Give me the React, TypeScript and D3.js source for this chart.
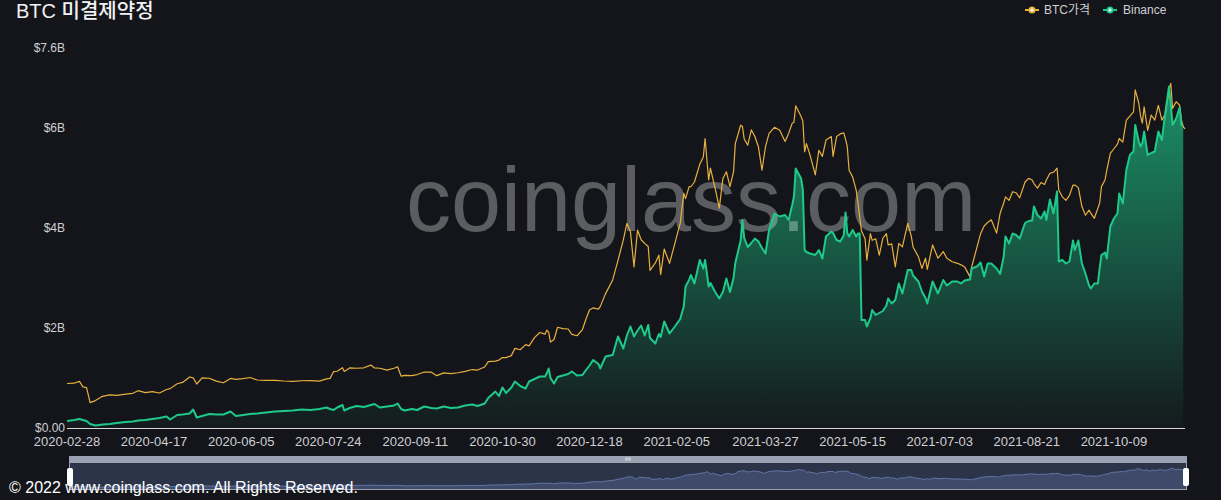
import React from 'react';
import * as d3 from 'd3';

const W = 1221;
const H = 500;

const dates: string[] = [
  '2020-02-28','2020-03-03','2020-03-06','2020-03-08','2020-03-10','2020-03-12','2020-03-15','2020-03-19','2020-03-23','2020-03-27',
  '2020-04-01','2020-04-05','2020-04-08','2020-04-12','2020-04-16','2020-04-20','2020-04-24','2020-04-26','2020-04-30',
  '2020-05-03','2020-05-07','2020-05-09','2020-05-11','2020-05-14','2020-05-18','2020-05-22','2020-05-26','2020-05-30',
  '2020-06-02','2020-06-06','2020-06-10','2020-06-14','2020-06-19','2020-06-24','2020-06-29',
  '2020-07-04','2020-07-09','2020-07-14','2020-07-19','2020-07-23','2020-07-25','2020-07-27','2020-07-29',
  '2020-08-01','2020-08-02','2020-08-05','2020-08-09','2020-08-13','2020-08-17','2020-08-19','2020-08-22','2020-08-26','2020-08-30',
  '2020-09-01','2020-09-03','2020-09-05','2020-09-09','2020-09-12','2020-09-16','2020-09-20','2020-09-23','2020-09-27',
  '2020-10-01','2020-10-05','2020-10-09','2020-10-13','2020-10-16','2020-10-20','2020-10-22','2020-10-26','2020-10-28','2020-10-30',
  '2020-11-01','2020-11-04','2020-11-06','2020-11-09','2020-11-12','2020-11-14','2020-11-17','2020-11-20','2020-11-23','2020-11-24','2020-11-25','2020-11-26','2020-11-28','2020-11-30',
  '2020-12-03','2020-12-06','2020-12-08','2020-12-11','2020-12-14','2020-12-16','2020-12-18','2020-12-20','2020-12-23','2020-12-24','2020-12-27','2020-12-31',
  '2021-01-03','2021-01-06','2021-01-08','2021-01-10','2021-01-12','2021-01-14','2021-01-16','2021-01-18','2021-01-20','2021-01-21','2021-01-24','2021-01-26','2021-01-27','2021-01-29',
  '2021-02-01','2021-02-04','2021-02-07','2021-02-09','2021-02-10','2021-02-12','2021-02-13','2021-02-15','2021-02-18','2021-02-20','2021-02-21','2021-02-23','2021-02-24','2021-02-27',
  '2021-03-01','2021-03-03','2021-03-05','2021-03-07','2021-03-09','2021-03-10','2021-03-13','2021-03-14','2021-03-15','2021-03-17','2021-03-19','2021-03-21','2021-03-23','2021-03-25','2021-03-27','2021-03-29',
  '2021-04-01','2021-04-04','2021-04-07','2021-04-09','2021-04-11','2021-04-12','2021-04-13','2021-04-16','2021-04-17','2021-04-18','2021-04-19','2021-04-21','2021-04-24','2021-04-26','2021-04-28','2021-04-30',
  '2021-05-03','2021-05-04','2021-05-06','2021-05-08','2021-05-10','2021-05-11','2021-05-12','2021-05-13','2021-05-15','2021-05-17','2021-05-18','2021-05-19','2021-05-20','2021-05-22','2021-05-23','2021-05-25','2021-05-26','2021-05-28','2021-05-30',
  '2021-06-01','2021-06-03','2021-06-04','2021-06-06','2021-06-08','2021-06-10','2021-06-12','2021-06-15','2021-06-17','2021-06-18','2021-06-21','2021-06-23','2021-06-25','2021-06-26','2021-06-29',
  '2021-07-02','2021-07-05','2021-07-07','2021-07-10','2021-07-13','2021-07-15','2021-07-17','2021-07-20','2021-07-21','2021-07-24','2021-07-26','2021-07-28','2021-07-30',
  '2021-08-01','2021-08-04','2021-08-06','2021-08-08','2021-08-09','2021-08-11','2021-08-13','2021-08-15','2021-08-17','2021-08-20','2021-08-22','2021-08-24','2021-08-25','2021-08-27','2021-08-29','2021-08-31',
  '2021-09-01','2021-09-03','2021-09-05','2021-09-07','2021-09-08','2021-09-10','2021-09-12','2021-09-14','2021-09-16','2021-09-17','2021-09-19','2021-09-21','2021-09-23','2021-09-25','2021-09-26','2021-09-28','2021-09-30',
  '2021-10-01','2021-10-02','2021-10-04','2021-10-05','2021-10-07','2021-10-09','2021-10-11','2021-10-12','2021-10-14','2021-10-16','2021-10-18','2021-10-20','2021-10-21','2021-10-23','2021-10-24','2021-10-25','2021-10-26','2021-10-28','2021-10-30',
  '2021-11-01','2021-11-03','2021-11-05','2021-11-07','2021-11-09','2021-11-10','2021-11-11','2021-11-13','2021-11-15','2021-11-16','2021-11-17','2021-11-18',
];

// BTC price, USD
const btcPrice: number[] = [
  8700, 8760, 9120, 8030, 7900, 4970, 5360, 6190, 6470, 6370,
  6640, 6780, 7300, 6910, 7120, 6840, 7530, 7700, 8660,
  8910, 9980, 9800, 8600, 9790, 9730, 9170, 8840, 9700,
  9520, 9660, 9880, 9390, 9310, 9310, 9190,
  9130, 9240, 9250, 9170, 9600, 9700, 11030, 11100,
  11800, 11070, 11740, 11680, 11770, 12300, 11750, 11680, 11330, 11680,
  11970, 10130, 10280, 10240, 10450, 10950, 10920, 10240, 10780,
  10620, 10800, 11060, 11430, 11330, 11920, 12990, 13080, 13280, 13780,
  13750, 14150, 15570, 15300, 16300, 16070, 17680, 18680, 18360, 19160, 18720, 16800, 17300, 19700,
  19420, 19360, 18320, 18040, 19250, 21300, 23130, 23480, 23240, 23730, 26270, 28950,
  32780, 36800, 40000, 38360, 31500, 38700, 36800, 36100, 35500, 30830, 32280, 33800, 30000, 35000,
  32200, 36100, 40000, 45900, 44840, 47200, 47170, 48100, 51550, 53000, 56600, 48500, 50800, 46300,
  43000, 48800, 50100, 47200, 50100, 55600, 59200, 59000, 56500, 55300, 58300, 57000, 55000, 50400, 55000, 57600,
  58800, 58200, 56000, 57600, 59600, 59800, 63000, 60900, 60000, 54000, 55600, 53400, 49500, 54300, 53100, 56300,
  57000, 53100, 57000, 57500, 57700, 56500, 55000, 50400, 49100, 46500, 44000, 41300, 38500, 37000, 32800, 38000, 36700, 37000, 33800,
  37100, 38000, 35800, 36000, 31500, 36100, 35400, 40000, 37500, 35400, 33500, 31200, 33200, 31000, 35800,
  33200, 34500, 33200, 32500, 32200, 31900, 31500, 29600, 31500, 35400, 38000, 39500, 40200,
  40700, 38100, 42000, 44000, 45200, 44500, 46200, 46000, 45000, 48100, 48800, 48500, 47800, 46900, 48000, 47600,
  48500, 49800, 50000, 50800, 46500, 45200, 44500, 45500, 47500, 47500, 47000, 43300, 41600, 42600, 42000, 41000, 43000,
  44000, 47200, 48500, 50400, 53700, 54600, 55500, 56600, 55900, 60200, 61000, 61800, 66100, 63500, 61000, 59600, 62800, 58200, 61200,
  60200, 63100, 60200, 61500, 66100, 67400, 62500, 63800, 63100, 60200, 58900, 58500,
];

// Binance BTC futures open interest, billions USD
const binanceOI: (number | null)[] = [
  0.14, 0.16, 0.18, 0.16, 0.14, 0.08, 0.05, 0.07, 0.08, 0.10,
  0.12, 0.13, 0.15, 0.16, 0.18, 0.20, 0.23, 0.17, 0.26,
  0.27, 0.29, 0.37, 0.21, 0.24, 0.28, 0.27, 0.27, 0.33,
  0.24, 0.26, 0.28, 0.29, 0.31, 0.33, 0.34,
  0.35, 0.37, 0.36, 0.38, 0.41, 0.38, 0.36, 0.41,
  0.46, 0.35, 0.40, 0.44, 0.42, 0.46, 0.48, 0.41, 0.43, 0.45,
  0.49, 0.38, 0.35, 0.38, 0.36, 0.43, 0.40, 0.39, 0.43,
  0.40, 0.41, 0.45, 0.47, 0.44, 0.49, 0.60, 0.73, 0.64, 0.81,
  0.70, 0.81, 0.93, 0.84, 0.79, 0.93, 0.98, 1.03, 1.03, 1.10, 1.19, 1.00, 0.89, 1.02,
  1.05, 1.08, 1.13, 1.05, 1.06, 1.16, 1.25, 1.36, 1.28, 1.19, 1.43, 1.46,
  1.83, 1.59, 1.85, 2.03, 1.83, 1.95, 2.05, 1.85, 2.06, 1.80, 1.69, 1.88, 1.82, 2.13,
  1.89, 2.03, 2.18, 2.43, 2.83, 2.96, 3.06, 2.89, 3.36, 3.19, 3.36, 2.83, 2.90, 2.70,
  2.59, 2.72, 2.99, 2.72, 3.00, 3.30, 3.75, 4.16, 3.80, 3.62, 3.70, 3.79, 3.73, 3.60, 3.49, 3.96,
  4.29, 4.23, 4.26, 4.16, 4.46, 4.63, 5.19, 4.99, 4.76, 3.56, 3.52, 3.49, 3.46, 3.56, 3.39, 3.83,
  3.93, 3.90, 3.76, 3.73, 3.85, 4.31, 3.90, 3.83, 3.96, 3.83, 3.89, 3.89, 2.16, 2.16, 2.03, 2.20, 2.36, 2.26, 2.30,
  2.34, 2.45, 2.59, 2.49, 2.56, 2.89, 2.69, 3.16, 3.16, 3.05, 2.93, 2.73, 2.60, 2.49, 2.93,
  2.69, 2.96, 2.85, 2.93, 2.93, 2.89, 2.95, 2.97, 3.19, 3.23, 3.31, 3.03, 3.29,
  3.29, 3.19, 3.08, 3.43, 3.83, 3.69, 3.89, 3.86, 3.79, 4.10, 4.14, 4.15, 4.43, 4.26, 4.19, 4.33,
  4.16, 4.57, 4.29, 4.73, 3.33, 3.36, 3.29, 3.33, 3.75, 3.56, 3.75, 3.29, 3.09, 2.85, 2.79, 2.89, 2.89,
  3.20, 3.46, 3.51, 3.39, 4.03, 4.19, 4.29, 4.69, 4.49, 5.16, 5.46, 5.53, 6.06, 5.73, 5.63, 5.70, 5.93, 5.46, 5.50,
  5.53, 5.93, 5.76, 6.33, 6.83, 6.49, 6.06, 6.19, 6.41, 6.06, 6.05, null,
];

const xTickLabels: string[] = [
  '2020-02-28', '2020-04-17', '2020-06-05', '2020-07-24', '2020-09-11', '2020-10-30',
  '2020-12-18', '2021-02-05', '2021-03-27', '2021-05-15', '2021-07-03', '2021-08-21', '2021-10-09',
];
const yTickValues: number[] = [0, 2, 4, 6, 7.6];
const yTickLabels: string[] = ['$0.00', '$2B', '$4B', '$6B', '$7.6B'];

const FONT = '"Liberation Sans", Arial, "Noto Sans CJK KR", sans-serif';
const BG = '#14151a';
const GREEN = '#1ec98a';
const GOLD = '#e8b03f';

export default function App() {
  const parse = d3.utcParse('%Y-%m-%d');
  const rows = dates.map((d, i) => ({ date: parse(d) as Date, price: btcPrice[i], oi: binanceOI[i] }));

  const left = 67, right = 1185, top = 48, bottom = 428;
  const x = d3.scaleUtc()
    .domain(d3.extent(rows, (r) => r.date) as [Date, Date])
    .range([left, right]);
  const yOI = d3.scaleLinear().domain([0, 7.6]).range([bottom, top]);
  const yPrice = d3.scaleLinear().domain([0, 74300]).range([bottom, top]);

  const oiRows = rows.filter((r) => r.oi != null);
  const areaGen = d3.area<any>().x((r) => x(r.date)).y0(bottom).y1((r) => yOI(r.oi));
  const oiLine = d3.line<any>().x((r) => x(r.date)).y((r) => yOI(r.oi));
  const priceLine = d3.line<any>().x((r) => x(r.date)).y((r) => yPrice(r.price));

  const oiMax = d3.max(oiRows, (r) => r.oi as number) as number;

  // dataZoom
  const dzLeft = 69, dzRight = 1187, dzTop = 462, dzBottom = 490;
  const xz = d3.scaleUtc().domain(x.domain()).range([dzLeft, dzRight]);
  const yz = d3.scaleLinear().domain([0, 68000]).range([dzBottom - 1, 468]);
  const shadowArea = d3.area<any>().x((r) => xz(r.date)).y0(dzBottom).y1((r) => yz(r.price));
  const shadowLine = d3.line<any>().x((r) => xz(r.date)).y((r) => yz(r.price));
  const gripX = (dzLeft + dzRight) / 2;

  return (
    <svg width={W} height={H} viewBox={`0 0 ${W} ${H}`}
      style={{ position: 'fixed', left: 0, top: 0, display: 'block', background: BG }}>
      <defs>
        <linearGradient id="oiFill" gradientUnits="userSpaceOnUse" x1="0" y1={yOI(oiMax)} x2="0" y2={bottom}>
          <stop offset="0" stopColor={GREEN} stopOpacity={0.68} />
          <stop offset="0.5" stopColor={GREEN} stopOpacity={0.36} />
          <stop offset="1" stopColor={GREEN} stopOpacity={0.03} />
        </linearGradient>
      </defs>
      <rect x={0} y={0} width={W} height={H} fill={BG} />

      {/* title */}
      <text x={16} y={17.5} fill="#f2f2f2" fontFamily={FONT} fontSize={20} fontWeight={500}>BTC 미결제약정</text>

      {/* legend */}
      <g fontFamily={FONT} fontSize={12} fill="#cfd0d4">
        <line x1={1025} x2={1039} y1={10} y2={10} stroke={GOLD} strokeWidth={2} />
        <circle cx={1032} cy={10} r={3.5} fill={GOLD} />
        <circle cx={1032} cy={10} r={1.7} fill="#fbeecd" />
        <text x={1044} y={10} dominantBaseline="central">BTC가격</text>
        <line x1={1103} x2={1117} y1={10} y2={10} stroke={GREEN} strokeWidth={2} />
        <circle cx={1110} cy={10} r={3.5} fill={GREEN} />
        <circle cx={1110} cy={10} r={1.7} fill="#cdf5e4" />
        <text x={1123} y={10} dominantBaseline="central">Binance</text>
      </g>

      {/* y axis labels */}
      <g fontFamily={FONT} fontSize={12} fill="#cfd0d4" textAnchor="end">
        {yTickValues.map((v, i) => (
          <text key={i} x={65} y={yOI(v)} dominantBaseline="central">{yTickLabels[i]}</text>
        ))}
      </g>

      {/* area */}
      <path d={areaGen(oiRows) as string} fill="url(#oiFill)" />

      {/* watermark */}
      <text x={691} y={231} textAnchor="middle" fontFamily={FONT} fontSize={90}
        fill="#ffffff" fillOpacity={0.31}>coinglass.com</text>

      {/* lines */}
      <path d={priceLine(rows) as string} fill="none" stroke={GOLD} strokeWidth={1.2} strokeLinejoin="round" />
      <path d={oiLine(oiRows) as string} fill="none" stroke={GREEN} strokeWidth={2} strokeLinejoin="round" />

      {/* x axis */}
      <line x1={left} x2={right} y1={bottom + 0.5} y2={bottom + 0.5} stroke="#d6d6d6" strokeWidth={1} />
      <g fontFamily={FONT} fontSize={13} fill="#cfd0d4" textAnchor="middle">
        {xTickLabels.map((t) => (
          <text key={t} x={x(parse(t) as Date)} y={441} dominantBaseline="central">{t}</text>
        ))}
      </g>

      {/* data zoom */}
      <rect x={dzLeft} y={456} width={dzRight - dzLeft} height={6} fill="#9aa2b1" />
      <rect x={dzLeft} y={dzTop} width={dzRight - dzLeft} height={dzBottom - dzTop} fill="#2c3449" />
      <path d={shadowArea(rows) as string} fill="#3f4a6b" />
      <path d={shadowLine(rows) as string} fill="none" stroke="#6275a6" strokeWidth={1} />
      <rect x={dzLeft + 0.5} y={dzTop + 0.5} width={dzRight - dzLeft - 1} height={dzBottom - dzTop - 1}
        fill="none" stroke="#9aa2b1" strokeWidth={1} />
      <g fill="#e8ebf0">
        <rect x={gripX - 2.5} y={457.5} width={1} height={3} />
        <rect x={gripX - 0.5} y={457.5} width={1} height={3} />
        <rect x={gripX + 1.5} y={457.5} width={1} height={3} />
      </g>
      <rect x={dzLeft - 2} y={468} width={6} height={18} rx={2} fill="#ffffff" />
      <rect x={dzRight - 4} y={468} width={6} height={18} rx={2} fill="#ffffff" />

      {/* copyright */}
      <text x={9} y={493} fontFamily={FONT} fontSize={16} fill="#ffffff">© 2022 www.coinglass.com. All Rights Reserved.</text>
    </svg>
  );
}
